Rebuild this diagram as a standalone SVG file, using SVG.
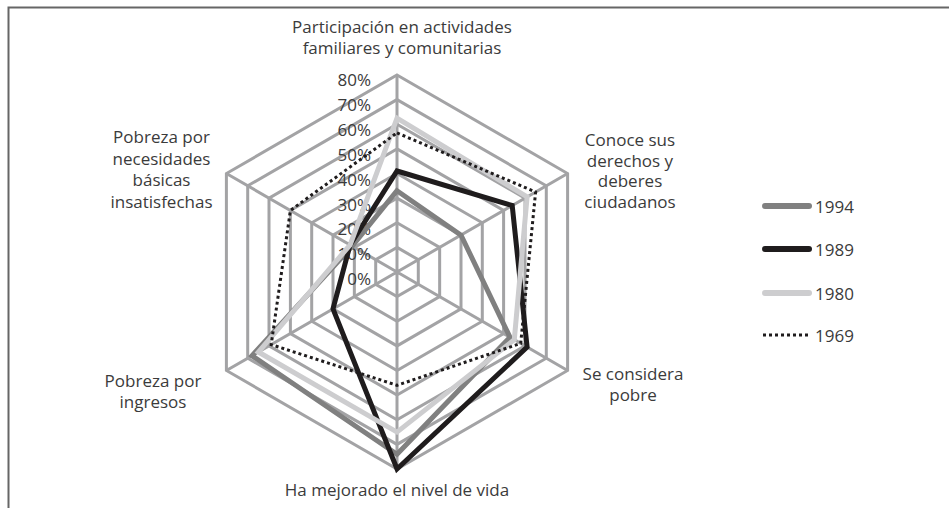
<svg xmlns="http://www.w3.org/2000/svg" width="949" height="508" viewBox="0 0 949 508">
<style>
.t{font-family:"Open Sans","Liberation Sans",sans-serif;font-size:17px;fill:#3b3b3b}
.m{text-anchor:middle}
.e{text-anchor:end}
.grid{fill:none;stroke:#a3a3a5;stroke-width:3}
.s{fill:none;stroke-width:5;stroke-linejoin:miter}
.s94{stroke:#808080}
.s89{stroke:#1f1c1d}
.s80{stroke:#cdcdcf}
.s69{fill:none;stroke:#1f1c1d;stroke-width:3;stroke-dasharray:3 3}
</style>
<rect width="949" height="508" fill="#fff"/>
<path d="M8.5 508V7.5H949" fill="none" stroke="#666" stroke-width="2"/>
<g id="grid">
<polygon class="grid" points="397,247.4 418.3,259.7 418.3,284.3 397,296.6 375.7,284.3 375.7,259.7"/>
<polygon class="grid" points="397,222.75 439.65,247.4 439.65,296.6 397,321.25 354.35,296.6 354.35,247.4"/>
<polygon class="grid" points="397,198.1 461,235.1 461,308.9 397,345.9 333,308.9 333,235.1"/>
<polygon class="grid" points="397,173.5 482.3,222.75 482.3,321.25 397,370.5 311.7,321.25 311.7,222.75"/>
<polygon class="grid" points="397,148.9 503.6,210.4 503.6,333.6 397,395.1 290.4,333.6 290.4,210.4"/>
<polygon class="grid" points="397,124.25 525,198.1 525,345.9 397,419.75 269,345.9 269,198.1"/>
<polygon class="grid" points="397,99.6 546.3,185.8 546.3,358.2 397,444.4 247.7,358.2 247.7,185.8"/>
<polygon class="grid" points="397,75 567.6,173.5 567.6,370.5 397,469 226.4,370.5 226.4,173.5"/>
<path class="grid" d="M397 272V75M397 272L567.6 173.5M397 272L567.6 370.5M397 272V469M397 272L226.4 370.5M397 272L226.4 173.5"/>
</g>
<g id="ticks" class="t e">
<text x="371" y="86">80%</text>
<text x="371" y="110.9">70%</text>
<text x="371" y="135.8">60%</text>
<text x="371" y="160.7">50%</text>
<text x="371" y="185.6">40%</text>
<text x="371" y="210.5">30%</text>
<text x="371" y="235.4">20%</text>
<text x="371" y="260.3">10%</text>
<text x="371" y="285.2">0%</text>
</g>
<g id="series">
<polygon class="s s94" points="397,190.7 461,235.1 510,337.3 397,454.2 252,355.7 352.2,246.1"/>
<polygon class="s s89" points="397,171 512.2,205.5 527.1,347.1 397,469 333,308.9 350.1,244.9"/>
<polygon class="s s80" points="397,118.1 527.1,196.9 514.3,339.7 397,432.1 258.4,352 350.1,244.9"/>
<polygon class="s69" points="397,132.9 535.6,192 520.7,343.4 397,385.3 271.2,344.6 290.4,210.4"/>
</g>
<g id="axis-labels" class="t m">
<text x="402" y="33">Participación en actividades</text>
<text x="402" y="54">familiares y comunitarias</text>
<text x="630" y="146">Conoce sus</text>
<text x="630" y="166.5">derechos y</text>
<text x="630" y="187">deberes</text>
<text x="630" y="207.5">ciudadanos</text>
<text x="633" y="380">Se considera</text>
<text x="633" y="400.5">pobre</text>
<text x="397" y="496">Ha mejorado el nivel de vida</text>
<text x="153" y="387">Pobreza por</text>
<text x="153" y="407.5">ingresos</text>
<text x="161.5" y="143">Pobreza por</text>
<text x="161.5" y="164.5">necesidades</text>
<text x="161.5" y="186">básicas</text>
<text x="161.5" y="207.5">insatisfechas</text>
</g>
<g id="legend">
<g id="leg-1994"><path d="M765 206H809" stroke="#808080" stroke-width="6" stroke-linecap="round"/><text class="t" x="815" y="213">1994</text></g>
<g id="leg-1989"><path d="M765 249H809" stroke="#1f1c1d" stroke-width="6" stroke-linecap="round"/><text class="t" x="815" y="256">1989</text></g>
<g id="leg-1980"><path d="M765 293H809" stroke="#cdcdcf" stroke-width="6" stroke-linecap="round"/><text class="t" x="815" y="300">1980</text></g>
<g id="leg-1969"><path d="M763 335H808" stroke="#1f1c1d" stroke-width="3" stroke-dasharray="3 3"/><text class="t" x="815" y="342">1969</text></g>
</g>
</svg>
